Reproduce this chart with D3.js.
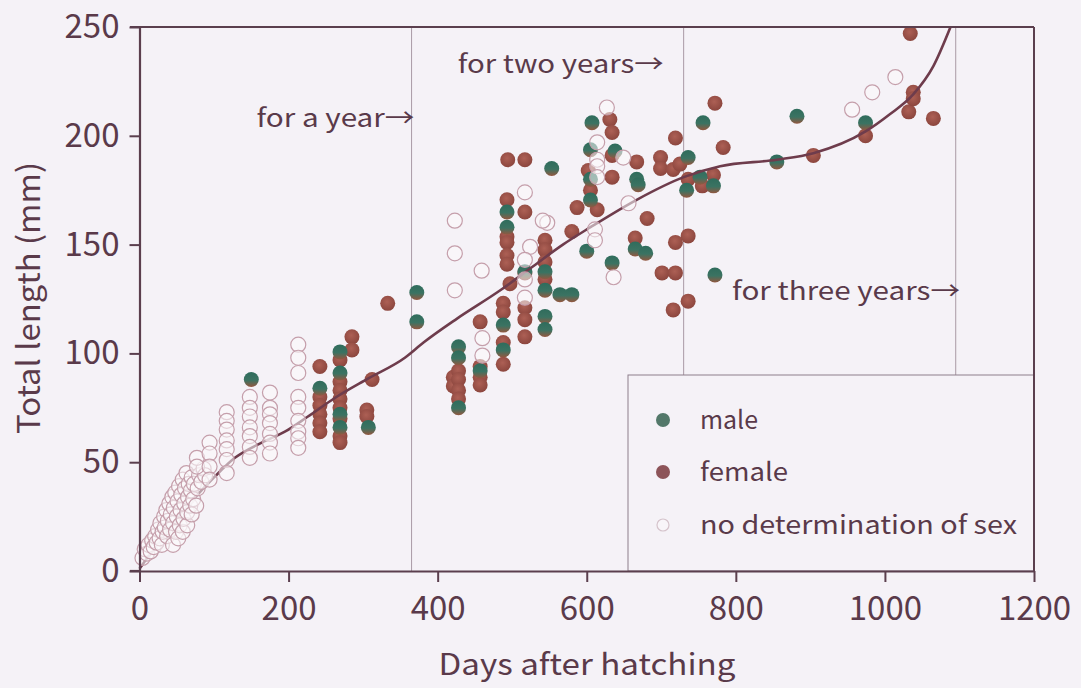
<!DOCTYPE html>
<html>
<head>
<meta charset="utf-8">
<script src="https://cdn.jsdelivr.net/npm/d3@7"></script>
<style>
  html, body { margin: 0; padding: 0; background: #f5f2f7; }
  svg { display: block; }
  text { font-family: "Noto Sans CJK JP", "Noto Sans", sans-serif; fill: #5a3a4a; }
</style>
</head>
<body>
<svg id="chart" width="1081" height="688"></svg>
<script>
// ---- data: [days after hatching, total length (mm)] ----
const male = [
  [150, 88], [242, 84], [269, 100.7], [269, 91], [269, 72], [269, 66], [307, 66],
  [372, 128], [372, 114.5], [428, 103], [428, 98], [428, 75], [457, 92],
  [488, 113], [488, 101.6], [493, 165], [493, 158], [517, 137.5], [544, 137.5],
  [544, 129], [544, 117], [544, 111], [553, 185], [564, 127], [580, 127],
  [600, 147], [605, 193.6], [605, 170.5], [605, 180], [607, 206], [634, 141.6],
  [638, 193], [665, 148], [667, 180], [669, 177.5], [679, 146], [734, 175],
  [736, 190], [752, 181], [770, 177], [756, 206], [772, 136], [855, 188],
  [882, 209], [974, 206]
];

const female = [
  [242, 94], [242, 80], [242, 76], [242, 72], [242, 68], [242, 64],
  [269, 97], [269, 87], [269, 83], [269, 79], [269, 75], [269, 70], [269, 62], [269, 59],
  [285, 107.6], [285, 101.6], [312, 88], [305, 74], [305, 71], [333, 123],
  [421, 89], [421, 85], [428, 92], [428, 88], [428, 83], [428, 79],
  [457, 114.5], [457, 94], [457, 89], [457, 85.5],
  [488, 123], [488, 119], [488, 105], [488, 95], [497, 132],
  [493, 170.6], [493, 153.6], [493, 151], [493, 145], [493, 141], [494, 189],
  [517, 189], [517, 165], [517, 137], [517, 121], [517, 115.5], [517, 107.6],
  [544, 152], [544, 147.6], [544, 142], [544, 134],
  [580, 156], [587, 167], [602, 184], [605, 175], [614, 166],
  [631, 207.5], [634, 201.5], [634, 191], [634, 181], [665, 153], [667, 188],
  [681, 162], [699, 190], [699, 185], [716, 184.5], [719, 199], [719, 151],
  [725, 187], [736, 154], [736, 180], [755, 177], [770, 182], [772, 215], [783, 194.6],
  [701, 137], [719, 137], [716, 120], [736, 124],
  [904, 191], [974, 200], [1032, 211], [1038, 220], [1038, 217], [1034, 247], [1065, 208]
];

const undetermined = [
  [4, 6], [7, 10], [10, 8], [12, 12], [15, 9], [17, 14], [19, 11], [21, 16], [23, 13],
  [25, 19], [27, 15], [28, 22], [30, 12], [31, 18], [33, 25], [34, 20], [36, 28],
  [37, 16], [38, 23], [40, 31], [41, 19], [42, 26], [44, 34], [45, 12], [45, 22],
  [46, 29], [48, 36], [49, 18], [50, 25], [51, 32], [52, 15], [53, 39], [54, 21],
  [55, 28], [56, 35], [58, 18], [58, 42], [59, 24], [60, 31], [61, 38], [63, 45],
  [64, 21], [64, 27], [65, 34], [66, 40], [68, 30], [69, 37], [70, 26], [70, 43],
  [72, 33], [73, 40], [76, 30], [78, 38], [80, 44], [83, 41], [86, 47], [88, 44],
  [77, 52], [77, 48], [94, 59], [94, 54], [94, 48], [94, 42],
  [117, 73], [117, 69], [117, 65], [117, 60], [117, 56], [117, 51], [117, 45],
  [148, 80], [148, 75], [148, 71], [148, 66], [148, 62], [148, 57], [148, 52],
  [175, 82], [175, 75], [175, 72], [175, 68], [175, 63], [175, 59], [175, 54],
  [213, 104], [213, 98], [213, 91], [213, 80], [213, 75], [213, 69], [213, 64], [213, 61], [213, 56.6],
  [423, 161], [423, 146], [423, 129], [459, 138], [460, 107], [460, 99],
  [517, 174], [524, 149], [517, 143], [517, 134], [517, 125.6], [547, 160], [541, 161],
  [614, 197], [614, 189], [614, 186], [614, 181], [611, 157], [611, 152],
  [627, 213], [649, 190], [656, 169], [636, 135],
  [956, 212], [983, 220], [1014, 227]
];

// fitted growth curve
const curveDays    = [0, 25, 50, 75, 100, 128, 164, 195, 226, 262, 307, 356, 381, 426, 484, 524, 568, 605, 667, 730, 779, 855, 904, 974, 1007, 1038, 1065, 1088];
const curveLengths = [1, 13, 24, 34, 43, 52, 59, 64, 71, 79.5, 88.5, 98, 105, 116, 129, 139, 150, 158, 170.6, 181, 186, 189, 192, 202, 210, 219, 232, 250];

const yearMarks = [365, 730, 1095];
const xTicks = [0, 200, 400, 600, 800, 1000, 1200];
const yTicks = [0, 50, 100, 150, 200, 250];

const annotations = [
  { text: "for a year\u2192", day: 157, len: 204, width: 158 },
  { text: "for two years\u2192", day: 427, len: 229, width: 206 },
  { text: "for three years\u2192", day: 795, len: 124.5, width: 228 }
];

const legendItems = [
  { key: "male", label: "male" },
  { key: "female", label: "female" },
  { key: "none", label: "no determination of sex" }
];

// ---- layout ----
const svg = d3.select("#chart");
const axisColor = "#5b3f4e";
const x = d3.scaleLinear().domain([0, 1200]).range([139.5, 1034]);
const y = d3.scaleLinear().domain([0, 250]).range([571, 27]);
const R = 7.5;

svg.append("rect").attr("width", 1081).attr("height", 688).attr("fill", "#f5f2f7");

const defs = svg.append("defs");
const mg = defs.append("linearGradient").attr("id", "maleFill")
  .attr("x1", 0).attr("y1", 0).attr("x2", 0).attr("y2", 1);
mg.append("stop").attr("offset", "0%").attr("stop-color", "#2f6c5c");
mg.append("stop").attr("offset", "55%").attr("stop-color", "#3b7362");
mg.append("stop").attr("offset", "100%").attr("stop-color", "#94573f");
const fg = defs.append("radialGradient").attr("id", "femaleFill")
  .attr("cx", "45%").attr("cy", "40%").attr("r", "60%");
fg.append("stop").attr("offset", "0%").attr("stop-color", "#ad6055");
fg.append("stop").attr("offset", "100%").attr("stop-color", "#8c463e");

// year boundary lines
svg.append("g").selectAll("line").data(yearMarks).join("line")
  .attr("x1", d => x(d)).attr("x2", d => x(d))
  .attr("y1", y(250)).attr("y2", y(0))
  .attr("stroke", "#a99aa6").attr("stroke-width", 1);

// legend box (drawn before the data so its fill hides the year lines)
const lg = svg.append("g");
lg.append("rect")
  .attr("x", 628).attr("y", 375)
  .attr("width", x(1200) - 628).attr("height", y(0) - 375)
  .attr("fill", "#f5f2f7").attr("stroke", "#8e7f8c").attr("stroke-width", 1);

// filled dots
const dots = svg.append("g");
dots.selectAll("circle.f").data(female).join("circle")
  .attr("class", "f")
  .attr("cx", d => x(d[0])).attr("cy", d => y(d[1])).attr("r", R)
  .attr("fill", "url(#femaleFill)");
dots.selectAll("circle.m").data(male).join("circle")
  .attr("class", "m")
  .attr("cx", d => x(d[0])).attr("cy", d => y(d[1])).attr("r", R)
  .attr("fill", "url(#maleFill)");

// growth curve
const curveData = d3.zip(curveDays, curveLengths);
svg.append("path")
  .datum(curveData)
  .attr("d", d3.line().x(d => x(d[0])).y(d => y(d[1])).curve(d3.curveMonotoneX))
  .attr("fill", "none").attr("stroke", "#6e3c4c").attr("stroke-width", 2.6);

// open circles
svg.append("g").selectAll("circle").data(undetermined).join("circle")
  .attr("cx", d => x(d[0])).attr("cy", d => y(d[1])).attr("r", R)
  .attr("fill", "#fbf9fb").attr("fill-opacity", 0.55)
  .attr("stroke", "#c59fab").attr("stroke-width", 1.2);

// frame: top and right edges
svg.append("line").attr("x1", 130).attr("x2", x(1200)).attr("y1", y(250)).attr("y2", y(250))
  .attr("stroke", axisColor).attr("stroke-width", 2);
svg.append("line").attr("x1", x(1200)).attr("x2", x(1200)).attr("y1", y(250)).attr("y2", y(0))
  .attr("stroke", axisColor).attr("stroke-width", 2);

// axes
const xAxis = svg.append("g").attr("transform", `translate(0,${y(0)})`)
  .call(d3.axisBottom(x).tickValues(xTicks).tickFormat(d3.format("d"))
    .tickSize(11).tickPadding(15).tickSizeOuter(0));
const yAxis = svg.append("g").attr("transform", `translate(${x(0)},0)`)
  .call(d3.axisLeft(y).tickValues(yTicks).tickFormat(d3.format("d"))
    .tickSize(10).tickPadding(10).tickSizeOuter(0));
[xAxis, yAxis].forEach(a => {
  a.select(".domain").attr("stroke", axisColor).attr("stroke-width", 2.2);
  a.selectAll(".tick line").attr("stroke", axisColor).attr("stroke-width", 2);
  a.selectAll(".tick text").attr("fill", "#5a3a4a")
    .style("font-size", "33px").style("font-family", "'Noto Sans CJK JP', sans-serif");
});
// extend the x axis line left to the 0 tick of the y axis
svg.append("line").attr("x1", 130).attr("x2", x(0)).attr("y1", y(0)).attr("y2", y(0))
  .attr("stroke", axisColor).attr("stroke-width", 2.2);

// axis titles
svg.append("text")
  .attr("x", 587).attr("y", 675)
  .attr("text-anchor", "middle")
  .attr("textLength", 297).attr("lengthAdjust", "spacingAndGlyphs")
  .style("font-size", "30px")
  .text("Days after hatching");
svg.append("text")
  .attr("transform", "translate(40,298) rotate(-90)")
  .attr("text-anchor", "middle")
  .attr("textLength", 272).attr("lengthAdjust", "spacingAndGlyphs")
  .style("font-size", "31px")
  .text("Total length (mm)");

// period annotations
svg.append("g").selectAll("text").data(annotations).join("text")
  .attr("x", d => x(d.day)).attr("y", d => y(d.len))
  .attr("textLength", d => d.width).attr("lengthAdjust", "spacingAndGlyphs")
  .style("font-size", "25px")
  .text(d => d.text);

// legend entries
const legendRowY = [420, 472, 525];
const legendTextW = [58, 88, 317];
legendItems.forEach((item, i) => {
  const cy = legendRowY[i];
  if (item.key === "male") {
    lg.append("circle").attr("cx", 663).attr("cy", cy).attr("r", 7).attr("fill", "#53786a");
  } else if (item.key === "female") {
    lg.append("circle").attr("cx", 663).attr("cy", cy).attr("r", 7).attr("fill", "#8d5459");
  } else {
    lg.append("circle").attr("cx", 663).attr("cy", cy).attr("r", 6)
      .attr("fill", "#f8f5f9").attr("stroke", "#d5c3cb").attr("stroke-width", 1.2);
  }
  lg.append("text")
    .attr("x", 700).attr("y", cy + 9)
    .attr("textLength", legendTextW[i]).attr("lengthAdjust", "spacingAndGlyphs")
    .style("font-size", "25px")
    .text(item.label);
});
</script>
</body>
</html>
